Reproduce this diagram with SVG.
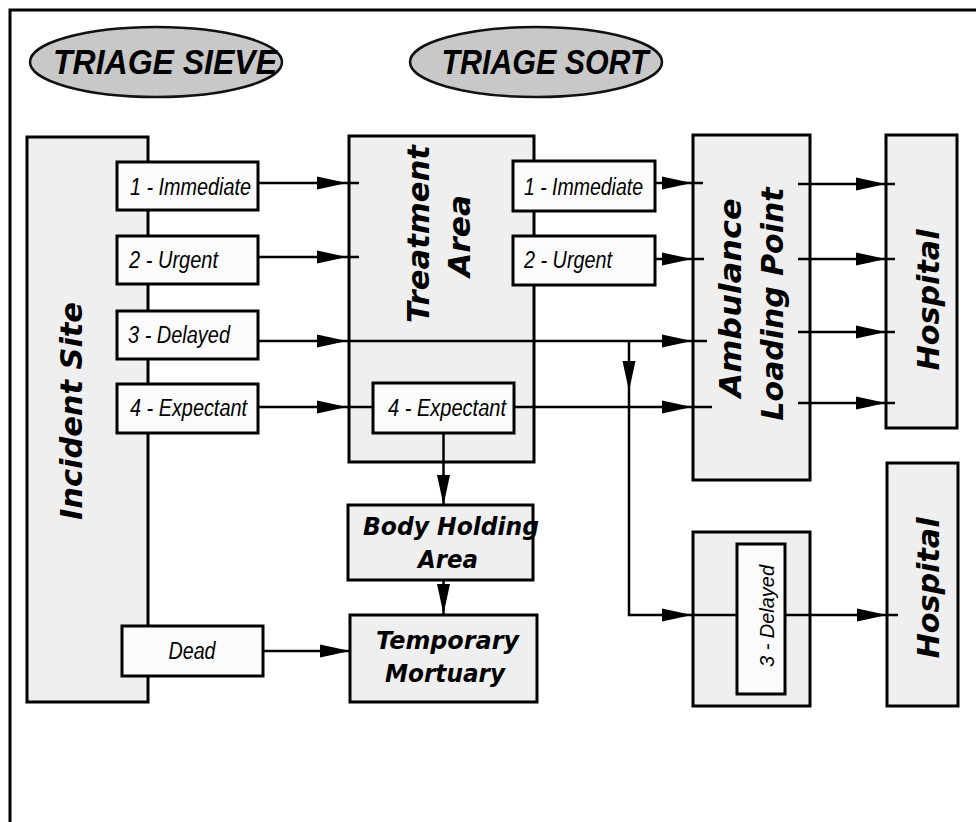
<svg xmlns="http://www.w3.org/2000/svg" xmlns:xlink="http://www.w3.org/1999/xlink" width="976" height="822" viewBox="0 0 976 822">
<style>
.frame{fill:none;stroke:#000;stroke-width:3}
.area{fill:#efefef;stroke:#000;stroke-width:3}
.lbl{fill:#fbfbfb;stroke:#000;stroke-width:3}
.oval{fill:#c8c8c8;stroke:#111;stroke-width:2.5}
.t-oval{font-family:"Liberation Sans",Arial,sans-serif;font-style:italic;font-weight:bold;font-size:35px;fill:#000}
.t-lbl{font-family:"Liberation Sans",Arial,sans-serif;font-style:italic;font-size:23px;fill:#000}
.t-area{font-family:"DejaVu Sans","Liberation Sans",sans-serif;font-style:oblique;font-weight:bold;font-size:30px;fill:#000}
.t-sm{font-family:"DejaVu Sans","Liberation Sans",sans-serif;font-style:oblique;font-weight:bold;font-size:24px;fill:#000}
.conn path{fill:none;stroke:#000;stroke-width:2.5}
.conn use{fill:#000}
</style>
<defs>
<path id="ah" d="M0,0 L-30,-6.5 L-30,6.5 Z"/>
</defs>
<rect width="976" height="822" fill="#fff"/>
<path class="frame" d="M10,822 V10 H976"/>

<g id="triage-sieve">
<ellipse class="oval" cx="156" cy="62" rx="126" ry="35"/>
<text class="t-oval" x="165" y="74" text-anchor="middle" textLength="224" lengthAdjust="spacingAndGlyphs">TRIAGE SIEVE</text>
</g>
<g id="triage-sort">
<ellipse class="oval" cx="536" cy="62" rx="126" ry="35"/>
<text class="t-oval" x="545" y="74" text-anchor="middle" textLength="207" lengthAdjust="spacingAndGlyphs">TRIAGE SORT</text>
</g>

<g id="incident-site">
<rect class="area" x="27" y="137" width="121" height="565"/>
<text class="t-area" transform="translate(82,411) rotate(-90)" text-anchor="middle" textLength="218" lengthAdjust="spacingAndGlyphs">Incident Site</text>
</g>
<g id="treatment-area">
<rect class="area" x="349" y="136" width="185" height="326"/>
<text class="t-area" transform="translate(429,234) rotate(-90)" text-anchor="middle" textLength="178" lengthAdjust="spacingAndGlyphs">Treatment</text>
<text class="t-area" transform="translate(470,236) rotate(-90)" text-anchor="middle" textLength="82" lengthAdjust="spacingAndGlyphs">Area</text>
</g>
<g id="ambulance-loading-point">
<rect class="area" x="693" y="135" width="117" height="345"/>
<text class="t-area" transform="translate(741,298) rotate(-90)" text-anchor="middle" textLength="199" lengthAdjust="spacingAndGlyphs">Ambulance</text>
<text class="t-area" transform="translate(783,304) rotate(-90)" text-anchor="middle" textLength="233" lengthAdjust="spacingAndGlyphs">Loading Point</text>
</g>
<g id="hospital-1">
<rect class="area" x="886" y="135" width="71" height="293"/>
<text class="t-area" transform="translate(939,300) rotate(-90)" text-anchor="middle" textLength="141" lengthAdjust="spacingAndGlyphs">Hospital</text>
</g>
<g id="hospital-2">
<rect class="area" x="887" y="463" width="71" height="243"/>
<text class="t-area" transform="translate(939,588) rotate(-90)" text-anchor="middle" textLength="141" lengthAdjust="spacingAndGlyphs">Hospital</text>
</g>
<g id="body-holding-area">
<rect class="area" x="348" y="505" width="185" height="75"/>
<text class="t-sm" x="451" y="535" text-anchor="middle" textLength="176" lengthAdjust="spacingAndGlyphs">Body Holding</text>
<text class="t-sm" x="448" y="568" text-anchor="middle" textLength="60" lengthAdjust="spacingAndGlyphs">Area</text>
</g>
<g id="temporary-mortuary">
<rect class="area" x="350" y="615" width="187" height="87"/>
<text class="t-sm" x="447.5" y="649" text-anchor="middle" textLength="143" lengthAdjust="spacingAndGlyphs">Temporary</text>
<text class="t-sm" x="445" y="682" text-anchor="middle" textLength="120" lengthAdjust="spacingAndGlyphs">Mortuary</text>
</g>
<g id="ambulance-delayed">
<rect class="area" x="693" y="532" width="117" height="174"/>
</g>

<g id="connectors" class="conn">
<path d="M258,183 H359"/>
<path d="M258,257 H359"/>
<path d="M258,341 H707"/>
<path d="M258,407 H373"/>
<path d="M654,183 H703"/>
<path d="M655,259 H704"/>
<path d="M514,407 H712"/>
<path d="M798,184 H895"/>
<path d="M798,259 H895"/>
<path d="M798,332 H895"/>
<path d="M798,403 H895"/>
<path d="M629,341 V615 H737"/>
<path d="M785,615 H898"/>
<path d="M443.5,433 V505"/>
<path d="M443.5,580 V615"/>
<path d="M263,651 H350"/>
<use xlink:href="#ah" href="#ah" transform="translate(347,183)"/>
<use xlink:href="#ah" href="#ah" transform="translate(347,257)"/>
<use xlink:href="#ah" href="#ah" transform="translate(347,341)"/>
<use xlink:href="#ah" href="#ah" transform="translate(347,407)"/>
<use xlink:href="#ah" href="#ah" transform="translate(692,183)"/>
<use xlink:href="#ah" href="#ah" transform="translate(692,259)"/>
<use xlink:href="#ah" href="#ah" transform="translate(692,341)"/>
<use xlink:href="#ah" href="#ah" transform="translate(692,407)"/>
<use xlink:href="#ah" href="#ah" transform="translate(886,184)"/>
<use xlink:href="#ah" href="#ah" transform="translate(886,259)"/>
<use xlink:href="#ah" href="#ah" transform="translate(886,332)"/>
<use xlink:href="#ah" href="#ah" transform="translate(886,403)"/>
<use xlink:href="#ah" href="#ah" transform="translate(629,391) rotate(90)"/>
<use xlink:href="#ah" href="#ah" transform="translate(692,615)"/>
<use xlink:href="#ah" href="#ah" transform="translate(887,615)"/>
<use xlink:href="#ah" href="#ah" transform="translate(443.5,505) rotate(90)"/>
<use xlink:href="#ah" href="#ah" transform="translate(443.5,614) rotate(90)"/>
<use xlink:href="#ah" href="#ah" transform="translate(350,651)"/>
</g>

<g id="sieve-immediate">
<rect class="lbl" x="117" y="162" width="141" height="48"/>
<text class="t-lbl" x="130" y="195" textLength="121" lengthAdjust="spacingAndGlyphs">1 - Immediate</text>
</g>
<g id="sieve-urgent">
<rect class="lbl" x="117" y="236" width="141" height="48"/>
<text class="t-lbl" x="129" y="268" textLength="89" lengthAdjust="spacingAndGlyphs">2 - Urgent</text>
</g>
<g id="sieve-delayed">
<rect class="lbl" x="117" y="311" width="141" height="48"/>
<text class="t-lbl" x="128" y="343" textLength="102" lengthAdjust="spacingAndGlyphs">3 - Delayed</text>
</g>
<g id="sieve-expectant">
<rect class="lbl" x="117" y="384" width="141" height="49"/>
<text class="t-lbl" x="130" y="416" textLength="117" lengthAdjust="spacingAndGlyphs">4 - Expectant</text>
</g>
<g id="sieve-dead">
<rect class="lbl" x="122" y="626" width="141" height="50"/>
<text class="t-lbl" x="192" y="659" text-anchor="middle" textLength="47" lengthAdjust="spacingAndGlyphs">Dead</text>
</g>
<g id="sort-immediate">
<rect class="lbl" x="513" y="161" width="142" height="50"/>
<text class="t-lbl" x="524" y="195" textLength="119" lengthAdjust="spacingAndGlyphs">1 - Immediate</text>
</g>
<g id="sort-urgent">
<rect class="lbl" x="513" y="236" width="142" height="49"/>
<text class="t-lbl" x="524" y="268" textLength="88" lengthAdjust="spacingAndGlyphs">2 - Urgent</text>
</g>
<g id="sort-expectant">
<rect class="lbl" x="373" y="383" width="141" height="50"/>
<text class="t-lbl" x="388" y="416" textLength="118" lengthAdjust="spacingAndGlyphs">4 - Expectant</text>
</g>
<g id="sort-delayed">
<rect class="lbl" x="737" y="544" width="48" height="150"/>
<text class="t-lbl" style="font-size:21px" transform="translate(774,616) rotate(-90)" text-anchor="middle" textLength="102" lengthAdjust="spacingAndGlyphs">3 - Delayed</text>
</g>
</svg>
